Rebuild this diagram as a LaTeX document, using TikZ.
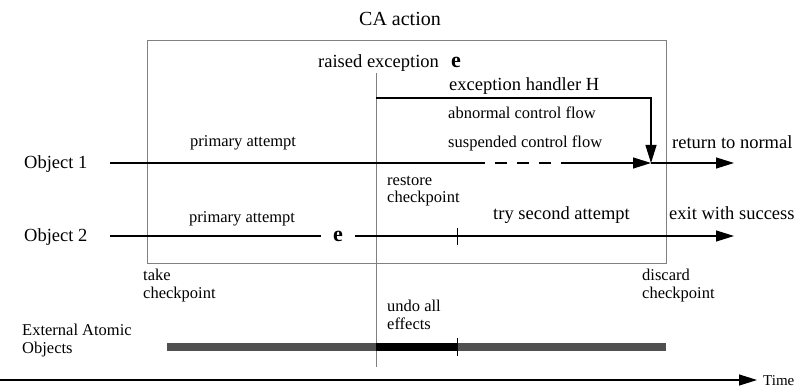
\documentclass[tikz,border=0pt]{standalone}
\usepackage{fontspec}
\setmainfont{Liberation Serif}
\usetikzlibrary{arrows.meta}
\definecolor{framegray}{HTML}{808080}
\definecolor{bargray}{HTML}{505050}
\tikzset{
  lbl/.style={inner sep=0pt, anchor=base west, font=\fontsize{16.5}{18}\selectfont},
  biglbl/.style={inner sep=0pt, anchor=base west, font=\fontsize{18.5}{20}\selectfont},
  twoline/.style={inner sep=0pt, anchor=north west, align=left, font=\fontsize{16.5}{17.5}\selectfont},
  flow/.style={line width=1.2pt},
  tip/.style={-{Triangle[length=18pt,width=11pt]}},
  boldE/.style={inner sep=0pt, font=\fontsize{22}{22}\selectfont\bfseries}
}
\begin{document}
\begin{tikzpicture}[x=1pt,y=-1pt]
\useasboundingbox (0,0) rectangle (797,387);

% CA action frame
\draw[framegray, line width=1pt] (147,41) rectangle (666,263);
\node[inner sep=0pt, anchor=base, font=\fontsize{20}{22}\selectfont] (title) at (400,26) {CA action};

% raising point of the exception
\coordinate (vtop) at (376,73);
\coordinate (vbot) at (376,367);
\draw[framegray, line width=1pt] (vtop) -- (vbot);
\node[biglbl] (raised) at (318,68) {raised exception};
\node[boldE, anchor=base west] (e1) at (451,68) {e};

% exception handler path
\node[biglbl] (handler) at (449,91) {exception handler H};
\node[lbl] (abn) at (448,119) {abnormal control flow};
\node[lbl] (susp) at (448,148) {suspended control flow};
\coordinate (hstart) at (376,98);
\coordinate (hcorner) at (651,98);

% Object 1 timeline
\node[biglbl] (obj1) at (24,169) {Object 1};
\node[lbl] (pa1) at (190,147) {primary attempt};
\coordinate (o1s) at (110,163);
\coordinate (d1) at (485,163);
\coordinate (d2) at (561,163);
\coordinate (o1m) at (651,163);
\coordinate (o1e) at (734,163);
\draw[flow] (o1s) -- (d1);
\draw[flow, dash pattern=on 12pt off 10pt, dash phase=12pt] (d1) -- (d2);
\draw[flow, tip] (d2) -- (o1m);
\draw[flow, tip] (o1m) -- (o1e);
\draw[flow, tip] (hstart) -- (hcorner) -- (o1m);
\node[biglbl] (ret) at (672,149) {return to normal};

% Object 2 timeline
\node[biglbl] (obj2) at (24,242) {Object 2};
\node[lbl] (pa2) at (189,223) {primary attempt};
\node[boldE, minimum width=34pt] (e2) at (338,236) {e};
\coordinate (o2s) at (110,236);
\coordinate (o2e) at (734,236);
\draw[flow] (o2s) -- (e2.west);
\draw[flow, tip] (e2.east) -- (o2e);
\coordinate (t2a) at (457,228);
\coordinate (t2b) at (457,245);
\draw[line width=1pt] (t2a) -- (t2b);
\node[twoline] (restore) at (387,176) {restore\\checkpoint};
\node[biglbl] (second) at (493,220) {try second attempt};
\node[biglbl] (exit) at (669,220) {exit with success};

% checkpoints
\node[twoline] (take) at (143,269) {take\\checkpoint};
\node[twoline] (discard) at (642,269) {discard\\checkpoint};

% external atomic objects
\node[twoline] (ext) at (22,324) {External Atomic\\Objects};
\node[twoline] (undo) at (387,300) {undo all\\effects};
\coordinate (bs) at (167,347);
\coordinate (bu) at (376,347);
\coordinate (bt) at (457,347);
\coordinate (be) at (666,347);
\draw[bargray, line width=8pt] (bs) -- (be);
\draw[black, line width=8pt] (bu) -- (bt);
\coordinate (t3a) at (457,338);
\coordinate (t3b) at (457,356);
\draw[line width=1pt] (t3a) -- (t3b);

% time axis
\coordinate (ts) at (0,380);
\coordinate (te) at (757,380);
\draw[flow, tip] (ts) -- (te);
\node[lbl, font=\fontsize{15}{17}\selectfont] (time) at (763,385) {Time};
\end{tikzpicture}
\end{document}
